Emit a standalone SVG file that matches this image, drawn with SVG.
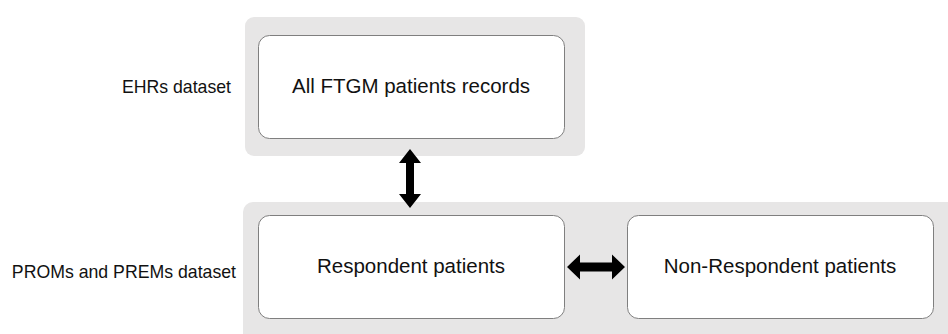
<svg xmlns="http://www.w3.org/2000/svg" width="948" height="334" viewBox="0 0 948 334">
<style>
.panel{fill:#e7e6e6;stroke:none}
.box{fill:#ffffff;stroke:#7f7f7f;stroke-width:1}
.t{font-family:"Liberation Sans",Arial,sans-serif;font-size:20.5px;fill:#111111;text-anchor:middle}
.lbl{font-family:"Liberation Sans",Arial,sans-serif;font-size:17.7px;fill:#111111;text-anchor:end}
.arr{fill:#000000}
</style>
<rect width="948" height="334" fill="#ffffff"/>
<g id="panel-ehrs">
<rect class="panel" x="245" y="17" width="340" height="139" rx="9"/>
<text class="lbl" x="231" y="93">EHRs dataset</text>
</g>
<g id="panel-proms">
<rect class="panel" x="243" y="202" width="720" height="145" rx="10"/>
<text class="lbl" x="236" y="278">PROMs and PREMs dataset</text>
</g>
<g id="node-all">
<rect class="box" x="258.5" y="35.5" width="306" height="103" rx="11"/>
<text class="t" x="411" y="93">All FTGM patients records</text>
</g>
<g id="node-respondent">
<rect class="box" x="258.5" y="215.5" width="306" height="103" rx="11"/>
<text class="t" x="411" y="273">Respondent patients</text>
</g>
<g id="node-nonrespondent">
<rect class="box" x="627.5" y="215.5" width="306" height="103" rx="11"/>
<text class="t" x="780" y="273">Non-Respondent patients</text>
</g>
<g id="connectors">
<polygon class="arr" points="410,149 421,163 414,163 414,194 421,194 410,208 399,194 406,194 406,163 399,163"/>
<polygon class="arr" points="567,267 580,254.5 580,262.5 612,262.5 612,254.5 625,267 612,279.5 612,271.5 580,271.5 580,279.5"/>
</g>
</svg>
